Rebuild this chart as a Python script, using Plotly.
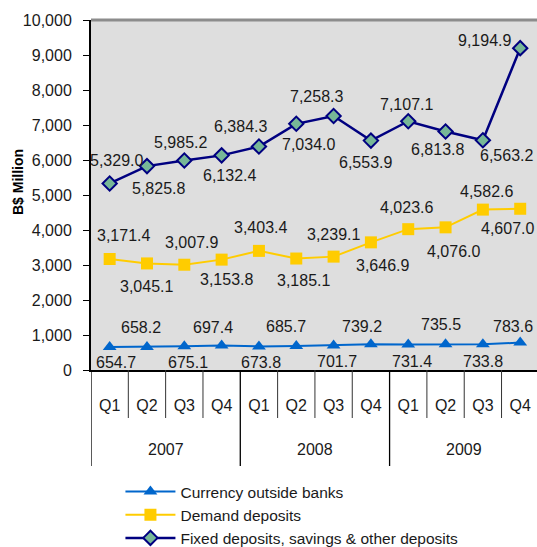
import plotly.graph_objects as go

years = ["2007", "2008", "2009"]
quarters = ["Q1", "Q2", "Q3", "Q4"]
periods = [f"{y} {q}" for y in years for q in quarters]

currency = [654.7, 658.2, 675.1, 697.4, 673.8, 685.7, 701.7, 739.2, 731.4, 735.5, 733.8, 783.6]
demand = [3171.4, 3045.1, 3007.9, 3153.8, 3403.4, 3185.1, 3239.1, 3646.9, 4023.6, 4076.0, 4582.6, 4607.0]
fixed = [5329.0, 5825.8, 5985.2, 6132.4, 6384.3, 7034.0, 7258.3, 6553.9, 7107.1, 6813.8, 6563.2, 9194.9]

series_names = ["Currency outside banks", "Demand deposits",
                "Fixed deposits, savings & other deposits"]

# pixel offsets (dx, dy) of each value label from its point; dy > 0 is below
currency_off = [(6, 15), (-6, -19), (4, 16), (-9, -18), (2, 16), (-10, -20),
                (3, 16), (-9, -18), (4, 17), (-5, -20), (0, 17), (-7, -16)]
demand_off = [(14, -24), (0, 23), (7, -22), (5, 20), (2, -23), (7, 22),
              (0, -22), (12, 23), (-2, -22), (8, 24), (4, -18), (-13, 20)]
fixed_off = [(7, -23), (12, 22), (-4, -18), (8, 20), (-18, -20), (12, 21),
             (-17, -19), (-5, 22), (-2, -17), (-8, 18), (24, 15), (-36, -8)]

FONT = "Liberation Sans, Arial, sans-serif"
INK = "#1a1a1a"
PLOT_W, PLOT_H = 446, 350  # plotting area in px, for paper-coordinate offsets


def fmt(v):
    return f"{v:,.1f}"


xs = list(range(len(periods)))

fig = go.Figure()
fig.add_trace(go.Scatter(
    x=xs, y=currency, name=series_names[0], mode="lines+markers",
    line=dict(color="#0066CC", width=2),
    marker=dict(symbol="triangle-up", size=12, color="#0066CC"),
    cliponaxis=False,
))
fig.add_trace(go.Scatter(
    x=xs, y=demand, name=series_names[1], mode="lines+markers",
    line=dict(color="#FFCC00", width=2),
    marker=dict(symbol="square", size=12, color="#FFCC00"),
    cliponaxis=False,
))
fig.add_trace(go.Scatter(
    x=xs, y=fixed, name=series_names[2], mode="lines+markers",
    line=dict(color="#000080", width=2.5),
    marker=dict(symbol="diamond", size=11, color="#77B797",
                line=dict(color="#000080", width=2)),
    cliponaxis=False,
))

# value labels
for values, offsets in ((currency, currency_off), (demand, demand_off), (fixed, fixed_off)):
    for i, (v, (dx, dy)) in enumerate(zip(values, offsets)):
        fig.add_annotation(
            x=i, y=v, xref="x", yref="y", text=fmt(v), showarrow=False,
            xshift=dx, yshift=-dy, xanchor="center", yanchor="middle",
            font=dict(family=FONT, size=16, color=INK),
        )

# quarter separators and year separators below the axis
for i in range(len(periods)):
    outer = i % 4 == 0
    fig.add_shape(type="line", xref="x", yref="paper",
                  x0=i - 0.5, x1=i - 0.5, y0=0, y1=-(96 if outer else 48) / PLOT_H,
                  line=dict(color="black" if outer else "#333333", width=1.3 if outer else 1))

# year labels
for k, yr in enumerate(years):
    fig.add_annotation(
        x=4 * k + 1.5, y=-79 / PLOT_H, xref="x", yref="paper", text=yr,
        showarrow=False, xanchor="center", yanchor="middle",
        font=dict(family=FONT, size=16, color=INK),
    )

# vertical axis title
fig.add_annotation(
    x=-73 / PLOT_W, y=188 / PLOT_H, xref="paper", yref="paper",
    text="<b>B$ Million</b>", textangle=-90, showarrow=False,
    xanchor="center", yanchor="middle",
    font=dict(family=FONT, size=14, color="black"),
)

fig.update_layout(
    width=537, height=547,
    margin=dict(l=91, r=0, t=20, b=177, autoexpand=False),
    paper_bgcolor="white",
    plot_bgcolor="#dedede",
    font=dict(family=FONT, size=16, color=INK),
    showlegend=True,
    legend=dict(
        orientation="v", x=0.066, y=-0.3, xanchor="left", yanchor="top",
        font=dict(family=FONT, size=15.5, color=INK),
        tracegroupgap=0, itemwidth=50, bgcolor="rgba(0,0,0,0)",
    ),
)

fig.update_xaxes(
    range=[-0.5, 11.45], automargin=False,
    tickvals=xs, ticktext=[p.split()[1] for p in periods],
    showline=True, linecolor="black", linewidth=2,
    ticks="outside", ticklen=20, tickcolor="rgba(0,0,0,0)",
    showgrid=False, zeroline=False,
    tickfont=dict(family=FONT, size=16, color=INK),
)
fig.update_yaxes(
    range=[0, 10000], dtick=1000, tickformat=",", automargin=False,
    showline=True, linecolor="black", linewidth=2,
    ticks="outside", ticklen=6, tickcolor="black",
    ticklabelstandoff=8,
    showgrid=False, zeroline=False,
    tickfont=dict(family=FONT, size=16, color=INK),
)

# grey upper frame of the plotting area
fig.add_shape(type="line", xref="paper", yref="paper", x0=0, x1=1, y0=1, y1=1,
              line=dict(color="#8c8c8c", width=3))

fig.write_html("out.html")
